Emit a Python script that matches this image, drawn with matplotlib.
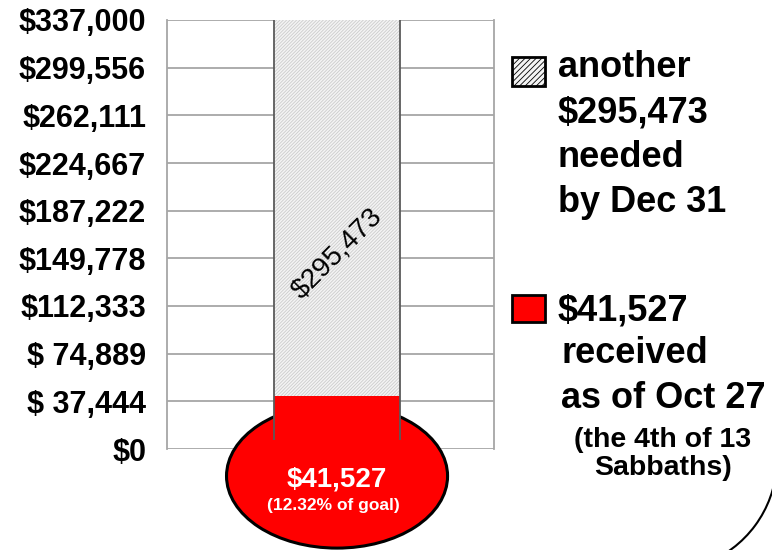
import numpy as np
import matplotlib
matplotlib.use("Agg")
import matplotlib.pyplot as plt
from matplotlib.patches import Ellipse, Rectangle, Arc

# data
goal = 337000
received = 41527
needed = goal - received
pct_of_goal = 12.32
tick_labels = ["$0", "$ 37,444", "$ 74,889", "$112,333", "$149,778",
               "$187,222", "$224,667", "$262,111", "$299,556", "$337,000"]
needed_lines = ["another", "$295,473", "needed", "by Dec 31"]
received_lines = ["$41,527", "received", "as of Oct 27"]
received_note = ["(the 4th of 13", "Sabbaths)"]

plt.rcParams['font.family'] = ['Liberation Sans', 'DejaVu Sans']
plt.rcParams['hatch.linewidth'] = 0.6

W, H = 772, 550
fig = plt.figure(figsize=(W / 100, H / 100), dpi=100)
ax = fig.add_axes([167 / W, 1 - 449 / H, 327 / W, 429 / H])


def fx(px):
    return px / W


def fy(py):
    return 1 - py / H


ax.set_xlim(-0.52, 0.48)
ax.set_ylim(0, goal)
ax.set_yticks(np.linspace(0, goal, len(tick_labels)))
ax.set_yticklabels(tick_labels, fontsize=22, fontweight='bold')
ax.set_xticks([])
ax.tick_params(axis='y', length=0, pad=15)
ax.set_axisbelow(True)
ax.yaxis.grid(True, color='#a6a6a6', linewidth=1.3, zorder=0)
for side in ['top', 'bottom']:
    ax.spines[side].set_visible(False)
for side in ['left', 'right']:
    ax.spines[side].set_color('#a6a6a6')
    ax.spines[side].set_linewidth(1.3)
    ax.spines[side].set_zorder(0.5)

bar_w = 0.385
# red bulb below the bar
bulb = Ellipse((0, -0.063 * goal), 0.676, 0.336 * goal, facecolor='#ff0000',
               edgecolor='black', linewidth=2.2, zorder=3, clip_on=False)
ax.add_patch(bulb)

ax.bar([0], [received], width=bar_w, color='#ff0000', edgecolor='none', zorder=4)
ax.bar([0], [needed], bottom=[received], width=bar_w, color='#f4f4f4',
       edgecolor='none', zorder=4)
ax.bar([0], [needed], bottom=[received], width=bar_w, color='none',
       edgecolor='#cccccc', hatch='//////////', linewidth=0, zorder=4)
ax.vlines([-bar_w / 2, bar_w / 2], 0.02 * goal, goal, color='#5a5a5a',
          linewidth=1.3, zorder=5)

ax.text(0, 0.455 * goal, "${:,}".format(needed), rotation=45, fontsize=20,
        ha='center', va='center', zorder=6)

ax.text(0, -0.07 * goal, "${:,}".format(received), fontsize=20,
        fontweight='bold', color='white', ha='center', va='center',
        zorder=6, clip_on=False)
ax.text(-0.012, -0.131 * goal, "({:.2f}% of goal)".format(pct_of_goal),
        fontsize=12.5, fontweight='bold', color='white', ha='center',
        va='center', zorder=6, clip_on=False)

# legend, drawn by hand
fig.patches.append(Rectangle((fx(512), fy(86)), 33 / W, 29 / H,
                             transform=fig.transFigure, facecolor='#f4f4f4',
                             edgecolor='black', linewidth=2, hatch='//////'))
fig.patches.append(Rectangle((fx(512), fy(322)), 33 / W, 27 / H,
                             transform=fig.transFigure, facecolor='#ff0000',
                             edgecolor='black', linewidth=2))
for i, line in enumerate(needed_lines):
    fig.text(fx(558), fy(77 + 45 * i), line, fontsize=26, fontweight='bold',
             va='baseline')
for line, x, y in zip(received_lines, [558, 562, 561], [320, 363, 408]):
    fig.text(fx(x), fy(y), line, fontsize=26, fontweight='bold', va='baseline')
for i, line in enumerate(received_note):
    fig.text(fx(663), fy(447 + 28 * i), line, fontsize=20.5,
             fontweight='bold', ha='center', va='baseline')

# decorative arc bottom right
fig.patches.append(Arc((fx(665), fy(459)), 224 / W, 224 / H, theta1=-75,
                       theta2=-5, transform=fig.transFigure, color='black',
                       linewidth=1.5))

fig.savefig("out.png", dpi=100)
